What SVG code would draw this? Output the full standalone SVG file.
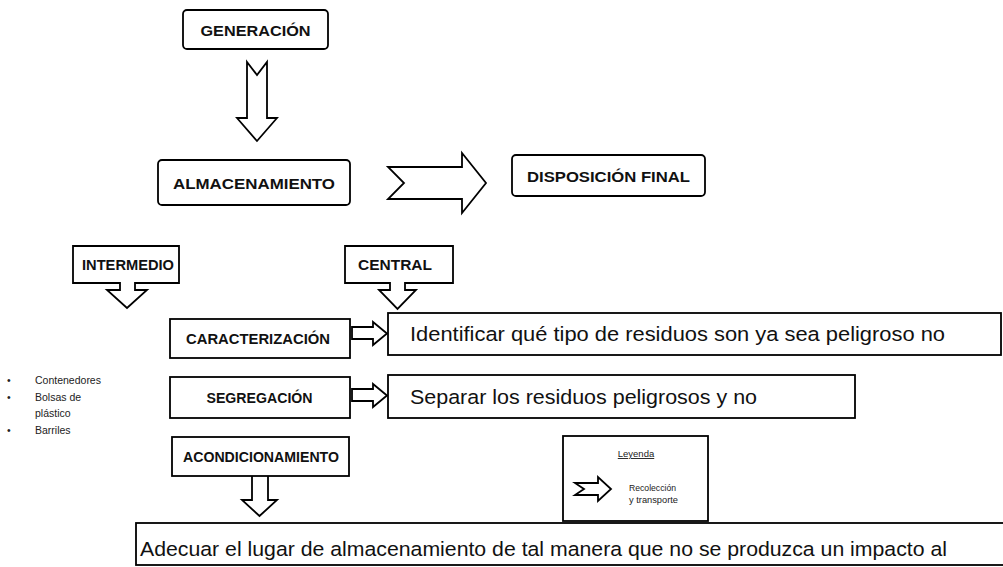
<svg xmlns="http://www.w3.org/2000/svg" width="1003" height="567" viewBox="0 0 1003 567">
<style>
.bx{fill:#fff;stroke:#000;stroke-width:1.8}
.ar{fill:#fff;stroke:#000;stroke-width:1.8;stroke-linejoin:miter}
.lb{font-family:"Liberation Sans",Arial,sans-serif;font-weight:bold;font-size:14.5px;text-anchor:middle;fill:#111}
.tx{font-family:"Liberation Sans",Arial,sans-serif;font-size:20.5px;fill:#111}
.sm{font-family:"Liberation Sans",Arial,sans-serif;font-size:10.5px;fill:#222}
.lg{font-family:"Liberation Sans",Arial,sans-serif;font-size:9.5px;fill:#222}
</style>
<rect width="1003" height="567" fill="#fff"/>
<g id="connectors">
<path class="ar" d="M247,62 L257,75 L267,62 V118 H277 L257,141 L237,118 H247 Z"/>
<path class="ar" d="M388,167 H462 V153 L486,183 L462,213 V199 H388 L404,183 Z"/>
<path class="ar" d="M352,327 H373 V322 L387,333.5 L373,345 V339 H352 Z"/>
<path class="ar" d="M352,389 H373 V384 L387,395.5 L373,407 V401 H352 Z"/>
<path class="ar" d="M252,476 V500 H242 L259.5,516 L277,500 H268 V476"/>
</g>
<g id="generacion">
<rect class="bx" x="183" y="10" width="145" height="39" rx="4"/>
<text class="lb" x="255.5" y="35.5" font-size="15.5" textLength="110" lengthAdjust="spacingAndGlyphs">GENERACIÓN</text>
</g>
<g id="almacenamiento">
<rect class="bx" x="158" y="160" width="192" height="45" rx="4"/>
<text class="lb" x="254" y="188.5" font-size="15.5" textLength="162" lengthAdjust="spacingAndGlyphs">ALMACENAMIENTO</text>
</g>
<g id="disposicion">
<rect class="bx" x="512" y="155" width="193" height="41" rx="4"/>
<text class="lb" x="608.5" y="181.5" font-size="15.5" textLength="163" lengthAdjust="spacingAndGlyphs">DISPOSICIÓN FINAL</text>
</g>
<g id="intermedio">
<path class="bx" d="M73,246 H179 V283 H135 V290 H147 L127,308 L107,290 H120 V283 H73 Z"/>
<text class="lb" x="128" y="270" textLength="92" lengthAdjust="spacingAndGlyphs">INTERMEDIO</text>
</g>
<g id="central">
<path class="bx" d="M345,246 H453 V283 H405 V290 H416 L397.5,309 L379,290 H390 V283 H345 Z"/>
<text class="lb" x="395" y="270" textLength="74" lengthAdjust="spacingAndGlyphs">CENTRAL</text>
</g>
<g id="caracterizacion">
<rect class="bx" x="170" y="319" width="180" height="39"/>
<text class="lb" x="258" y="344" textLength="144" lengthAdjust="spacingAndGlyphs">CARACTERIZACIÓN</text>
</g>
<g id="identificar">
<rect class="bx" x="388" y="313" width="613" height="42"/>
<text class="tx" x="410" y="340.5" textLength="535" lengthAdjust="spacingAndGlyphs">Identificar qué tipo de residuos son ya sea peligroso no</text>
</g>
<g id="segregacion">
<rect class="bx" x="170" y="377" width="180" height="41"/>
<text class="lb" x="259.5" y="402.5" textLength="106" lengthAdjust="spacingAndGlyphs">SEGREGACIÓN</text>
</g>
<g id="separar">
<rect class="bx" x="388" y="375" width="467" height="43"/>
<text class="tx" x="410" y="404" textLength="347" lengthAdjust="spacingAndGlyphs">Separar los residuos peligrosos y no</text>
</g>
<g id="acondicionamiento">
<rect class="bx" x="172" y="437" width="177" height="39"/>
<text class="lb" x="261" y="461.5" textLength="156" lengthAdjust="spacingAndGlyphs">ACONDICIONAMIENTO</text>
</g>
<g id="adecuar">
<rect class="bx" x="136" y="523" width="880" height="42"/>
<text class="tx" x="140" y="555.5" textLength="807" lengthAdjust="spacingAndGlyphs">Adecuar el lugar de almacenamiento de tal manera que no se produzca un impacto al</text>
</g>
<g id="lista">
<text class="sm" x="7" y="384">•</text>
<text class="sm" x="35" y="384">Contenedores</text>
<text class="sm" x="7" y="401">•</text>
<text class="sm" x="35" y="401">Bolsas de</text>
<text class="sm" x="35" y="417">plástico</text>
<text class="sm" x="7" y="434">•</text>
<text class="sm" x="35" y="434">Barriles</text>
</g>
<g id="leyenda">
<rect class="bx" x="563" y="436" width="145" height="85"/>
<text class="lg" x="636" y="457" text-anchor="middle" text-decoration="underline">Leyenda</text>
<path class="ar" d="M575,483 H598 V477 L611,489 L598,501 V495 H575 L584,489 Z"/>
<text class="lg" x="629" y="491" textLength="47" lengthAdjust="spacingAndGlyphs">Recolección</text>
<text class="lg" x="629" y="503" textLength="49" lengthAdjust="spacingAndGlyphs">y transporte</text>
</g>
</svg>
